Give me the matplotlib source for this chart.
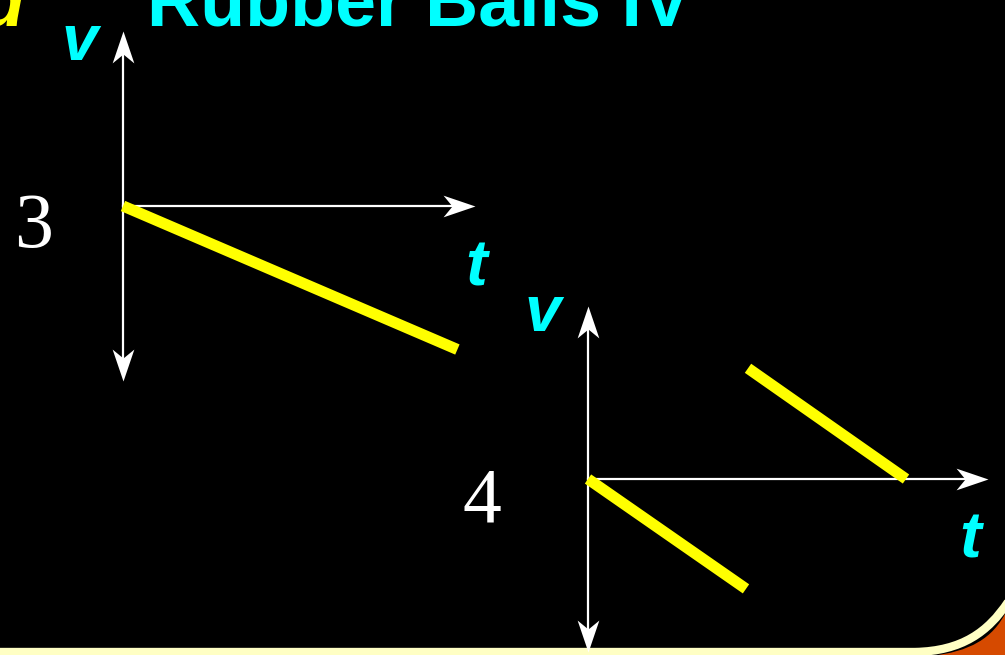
import matplotlib.pyplot as plt
from matplotlib.patches import PathPatch
from matplotlib.path import Path

# graph 3: velocity falls steadily from zero
t3 = [0.0, 0.95]
v3 = [0.0, -0.82]

# graph 4: two falling segments, jump up in between
t4a = [0.0, 0.395]
v4a = [0.0, -0.635]
t4b = [0.40, 0.795]
v4b = [0.64, 0.0]

title = "Rubber Balls IV"
labels = ["3", "4"]

W, H = 1005, 655
fig = plt.figure(figsize=(W / 100, H / 100), dpi=100, facecolor="black")

# background layer in pixel coordinates
bg = fig.add_axes([0, 0, 1, 1])
bg.set_xlim(0, W)
bg.set_ylim(H, 0)
bg.axis("off")
bg.set_facecolor("black")

# orange corner and pale yellow border at the bottom
corner = Path([(930, 656), (970, 652), (993, 638), (1006, 612), (1006, 656), (930, 656)],
              [Path.MOVETO, Path.CURVE4, Path.CURVE4, Path.CURVE4, Path.LINETO, Path.CLOSEPOLY])
bg.add_patch(PathPatch(corner, facecolor="#d64a00", edgecolor="none"))
border = Path([(-5, 652), (915, 652), (962, 651), (988, 632), (1008, 602)],
              [Path.MOVETO, Path.LINETO, Path.CURVE4, Path.CURVE4, Path.CURVE4])
bg.add_patch(PathPatch(border, facecolor="none", edgecolor="#ffffc4", lw=6, capstyle="butt"))

# title and labels
bg.text(147, 25, title, color="#00ffff", fontsize=53, fontweight="bold",
        family="Liberation Sans", ha="left", va="baseline")
bg.text(25, 25, "d", color="#ffff00", fontsize=53, fontweight="bold", style="italic",
        family="Liberation Sans", ha="right", va="baseline")
bg.text(34, 247, labels[0], color="white", fontsize=56, family="Liberation Serif",
        ha="center", va="baseline")
bg.text(482, 521, labels[1], color="white", fontsize=56, family="Liberation Serif",
        ha="center", va="baseline")
for x, y, s in [(80, 60, "v"), (476, 286, "t"), (543, 331, "v"), (970, 557, "t")]:
    bg.text(x, y, s, color="#00ffff", fontsize=47, fontweight="bold", style="italic",
            family="Liberation Sans", ha="center", va="baseline")

# notched arrow heads, tip at the marker's origin
head_verts = [(0, 0), (-0.34, -1), (0, -0.72), (0.34, -1), (0, 0)]
head_codes = [Path.MOVETO, Path.LINETO, Path.LINETO, Path.LINETO, Path.CLOSEPOLY]
up = Path(head_verts, head_codes)
down = Path([(x, -y) for x, y in head_verts], head_codes)
right = Path([(y, -x) for x, y in head_verts], head_codes)


def graph(rect):
    ax = fig.add_axes(rect)
    ax.set_xlim(0, 1)
    ax.set_ylim(-1, 1)
    ax.axis("off")
    ax.patch.set_alpha(0)
    ax.plot([0, 0.97], [0, 0], color="white", lw=1.6, clip_on=False)
    ax.plot([0, 0], [-0.95, 0.95], color="white", lw=1.6, clip_on=False)
    ms = 46
    ax.plot([1], [0], marker=right, ms=ms, color="white", mew=0, ls="none", clip_on=False)
    ax.plot([0], [1], marker=up, ms=ms, color="white", mew=0, ls="none", clip_on=False)
    ax.plot([0], [-1], marker=down, ms=ms, color="white", mew=0, ls="none", clip_on=False)
    return ax


ax3 = graph([123 / W, 1 - 381 / H, 352 / W, 350 / H])
ax3.plot(t3, v3, color="#ffff00", lw=8, solid_capstyle="butt", clip_on=False)

ax4 = graph([588 / W, 1 - 652 / H, 400 / W, 346 / H])
ax4.plot(t4a, v4a, color="#ffff00", lw=8, solid_capstyle="butt", clip_on=False)
ax4.plot(t4b, v4b, color="#ffff00", lw=8, solid_capstyle="butt", clip_on=False)

fig.savefig("out.png", dpi=100, facecolor="black")
